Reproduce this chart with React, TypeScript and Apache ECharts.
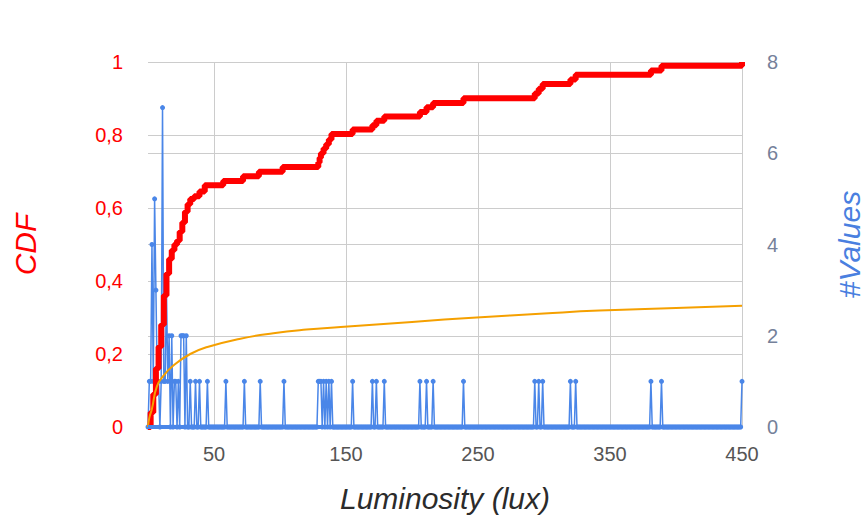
import React, { useEffect, useRef } from "react";
import * as echarts from "echarts";

// X axis tick labels (lux)
const xTickLabels = [50, 150, 250, 350, 450];
const luxMin = 0;
const luxMax = 450;

// CDF (red step line), read at each step
const cdfLux = [0, 2, 4, 6, 8, 10, 12, 14, 16, 18, 20, 22, 24, 26, 28, 30, 32, 35, 39, 43, 57, 72, 84, 102, 129, 130, 131, 133, 135, 137, 139, 155, 170, 173, 179, 206, 211, 216, 239, 293, 296, 299, 320, 324, 381, 389, 450];
const cdfValues = [0, 0.04, 0.09, 0.16, 0.22, 0.28, 0.36, 0.42, 0.46, 0.484, 0.5, 0.51, 0.535, 0.56, 0.59, 0.61, 0.625, 0.632, 0.645, 0.662, 0.674, 0.687, 0.699, 0.712, 0.725, 0.738, 0.75, 0.763, 0.775, 0.788, 0.803, 0.815, 0.827, 0.839, 0.851, 0.863, 0.876, 0.888, 0.901, 0.914, 0.927, 0.94, 0.952, 0.965, 0.977, 0.99, 1.0];

// Fitted curve (orange)
const fitLux = [0, 1, 3, 6.6, 11.6, 19, 32, 45, 70, 95, 120, 146, 200, 249, 300, 342, 400, 450];
const fitValues = [0, 0.025, 0.05, 0.11, 0.14, 0.168, 0.2, 0.219, 0.242, 0.257, 0.267, 0.274, 0.288, 0.3, 0.311, 0.319, 0.326, 0.332];

// Number of values per lux (blue spikes); all other lux values are 0
const countLux = [1, 2, 3, 4, 5, 6, 7, 8, 10, 11, 12, 13, 14, 15, 16, 18, 20, 21, 23, 25, 26, 27, 29, 32, 36, 39, 45, 59, 73, 85, 103, 129, 130, 131, 133, 135, 137, 139, 155, 170, 173, 179, 206, 211, 216, 239, 293, 296, 299, 320, 324, 381, 389, 450];
const countValues = [1, 1, 4, 1, 5, 3, 1, 1, 1, 7, 1, 1, 3, 1, 2, 2, 1, 1, 1, 2, 2, 2, 2, 1, 1, 1, 1, 1, 1, 1, 1, 1, 1, 1, 1, 1, 1, 1, 1, 1, 1, 1, 1, 1, 1, 1, 1, 1, 1, 1, 1, 1, 1, 1];

const FONT = "'Liberation Sans', Arial, sans-serif";

export default function App() {
  const ref = useRef<HTMLDivElement>(null);
  useEffect(() => {
    if (!ref.current) return;
    const chart = echarts.init(ref.current, null, { renderer: "svg" });
    const countMap = new Map<number, number>();
    countLux.forEach((x, i) => countMap.set(x, countValues[i]));
    const countData: number[][] = [];
    for (let x = luxMin; x <= luxMax; x++) countData.push([x, countMap.get(x) ?? 0]);
    const cdfData = cdfLux.map((x, i) => [x, cdfValues[i]]);
    const fitData = fitLux.map((x, i) => [x, fitValues[i]]);

    chart.setOption({
      animation: false,
      backgroundColor: "#ffffff",
      grid: { left: 148, right: 123, top: 62, bottom: 96, outerBoundsMode: "none", containLabel: false },
      xAxis: {
        type: "value",
        min: luxMin,
        max: luxMax,
        name: "Luminosity (lux)",
        nameLocation: "middle",
        nameGap: 56,
        nameTextStyle: { fontSize: 30, fontStyle: "italic", color: "#2b2b2b", fontFamily: FONT },
        axisLine: { show: true, lineStyle: { color: "#333333", width: 1 } },
        axisTick: { show: false, customValues: xTickLabels },
        axisLabel: { customValues: xTickLabels, color: "#555555", fontSize: 20, margin: 17, fontFamily: FONT },
        splitLine: { show: true, lineStyle: { color: "#cccccc", width: 1 } },
      },
      yAxis: [
        {
          type: "value",
          position: "left",
          min: 0,
          max: 1,
          interval: 0.2,
          name: "CDF",
          nameLocation: "middle",
          nameGap: 108,
          nameTextStyle: { fontSize: 30, fontStyle: "italic", color: "#ff0000", fontFamily: FONT },
          axisLine: { show: false },
          axisTick: { show: false },
          axisLabel: {
            color: "#ff0000",
            fontSize: 20,
            margin: 25,
            fontFamily: FONT,
            formatter: (v: number) => String(Math.round(v * 10) / 10).replace(".", ","),
          },
          splitLine: { show: true, lineStyle: { color: "#cccccc", width: 1 } },
        },
        {
          type: "value",
          position: "right",
          min: 0,
          max: 8,
          interval: 2,
          name: "#Values",
          nameLocation: "middle",
          nameGap: 92,
          nameTextStyle: { fontSize: 30, fontStyle: "italic", color: "#4a7fe0", fontFamily: FONT },
          axisLine: { show: false },
          axisTick: { show: false },
          axisLabel: { color: "#75819a", fontSize: 20, margin: 25, fontFamily: FONT },
          splitLine: { show: true, lineStyle: { color: "#cccccc", width: 1 } },
        },
      ],
      series: [
        {
          name: "#Values",
          type: "line",
          yAxisIndex: 1,
          data: countData,
          symbol: "circle",
          symbolSize: 5,
          showSymbol: true,
          showAllSymbol: true,
          clip: false,
          itemStyle: { color: "#4a86e8", borderWidth: 0 },
          lineStyle: { color: "#4a86e8", width: 1.5 },
          markLine: {
            silent: true,
            symbol: "none",
            label: { show: false },
            lineStyle: { color: "#4a86e8", width: 4, type: "solid" },
            data: [{ yAxis: 0 }],
          },
          z: 2,
        },
        {
          name: "CDF",
          type: "line",
          yAxisIndex: 0,
          data: cdfData,
          step: "end",
          showSymbol: false,
          lineStyle: { color: "#ff0000", width: 6 },
          z: 3,
        },
        {
          name: "Fit",
          type: "line",
          yAxisIndex: 0,
          data: fitData,
          smooth: true,
          showSymbol: false,
          lineStyle: { color: "#f5a000", width: 2 },
          z: 4,
        },
      ],
    });
    return () => chart.dispose();
  }, []);
  return <div ref={ref} style={{ position: "fixed", left: 0, top: 0, width: 865, height: 523 }} />;
}
